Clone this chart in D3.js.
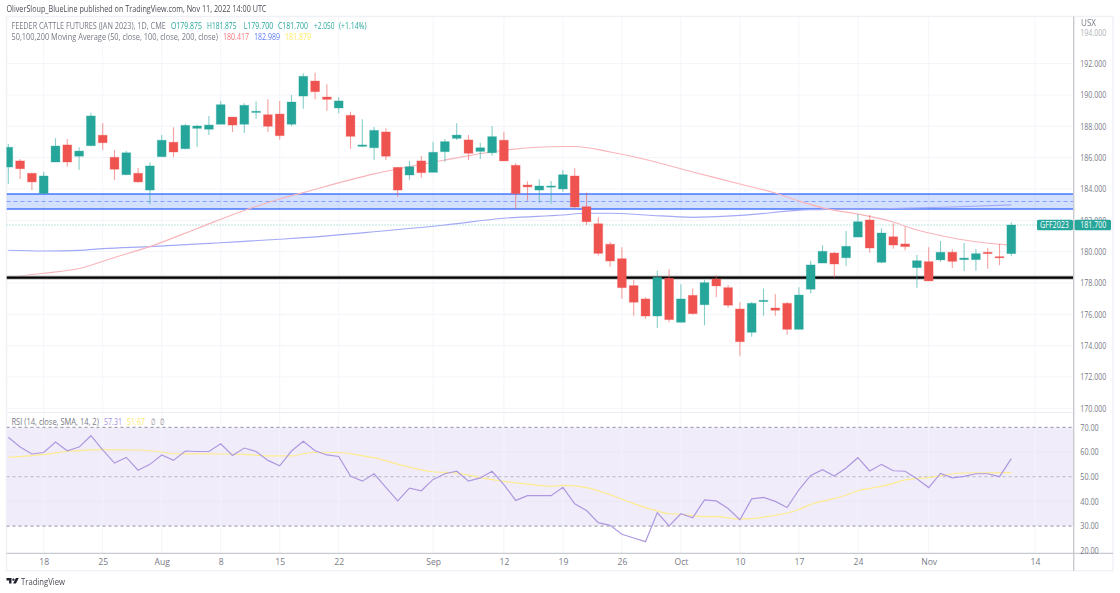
<!DOCTYPE html>
<html><head><meta charset="utf-8">
<script src="https://cdn.jsdelivr.net/npm/d3@7"></script>
<style>
html,body{margin:0;padding:0;background:#fff;overflow:hidden}
svg{display:block;filter:blur(0.3px)}
text{font-family:"Open Sans",sans-serif}
</style></head><body>
<svg id="c" width="1120" height="593"></svg>
<script>
const opens=[185.40,185.79,185.00,183.72,185.72,186.81,186.09,186.76,187.43,186.02,184.91,185.00,183.93,186.06,186.98,186.57,187.87,187.81,188.13,188.59,188.13,188.91,188.74,188.78,188.13,189.93,190.89,189.87,189.17,188.70,186.72,186.63,187.64,185.38,184.89,185.79,185.06,186.38,187.23,187.13,186.40,186.31,187.11,185.51,184.25,183.93,184.14,184.00,184.83,182.87,181.78,180.47,179.55,177.83,176.98,175.89,178.30,175.49,177.21,176.61,178.25,177.70,176.34,174.85,176.81,176.40,176.70,175.04,177.60,179.27,179.91,179.61,180.93,182.02,179.32,180.95,180.49,178.98,179.36,179.47,179.96,179.49,179.49,179.96,179.68,179.875];
const highs=[186.87,185.89,185.04,185.10,187.23,187.19,186.66,188.87,188.19,186.49,186.42,185.34,185.70,187.44,187.94,188.15,188.08,188.66,189.61,188.59,189.47,189.59,189.72,189.61,190.00,191.38,191.42,190.68,189.85,188.93,188.45,187.95,187.87,185.38,185.79,186.10,187.02,187.19,188.19,187.44,186.95,188.02,187.65,185.64,184.49,184.62,184.51,185.21,185.32,183.76,182.19,180.63,180.28,178.19,177.09,178.78,178.87,177.92,177.64,178.19,178.49,177.87,176.77,176.79,177.64,177.30,176.79,177.72,179.40,180.40,179.98,181.32,182.40,182.34,181.49,181.81,181.59,179.79,180.28,180.68,180.15,180.55,180.17,180.23,180.49,181.875];
const lows=[184.32,184.64,183.93,183.68,185.72,185.42,185.21,186.74,186.49,184.57,184.89,184.40,183.02,186.06,186.04,186.53,186.70,187.44,188.13,187.64,187.57,188.48,187.64,187.14,188.00,189.12,189.72,189.00,188.83,186.57,186.66,185.85,185.85,183.51,184.59,184.72,185.06,185.74,187.13,185.85,185.91,186.12,185.79,182.70,183.25,183.12,183.06,183.83,182.74,181.70,179.74,179.04,177.00,175.91,175.72,175.13,175.49,175.49,175.98,175.30,177.09,176.42,173.36,174.57,175.91,175.91,174.70,175.04,177.32,179.27,178.34,179.10,180.93,179.93,179.28,180.19,180.09,177.70,178.13,179.36,178.96,178.77,178.78,178.91,179.13,179.70];
const closes=[186.66,185.29,184.45,184.83,186.74,185.72,186.42,188.66,186.95,185.26,186.31,184.45,185.47,187.11,186.36,188.06,188.02,188.08,189.38,188.08,189.34,188.96,188.00,187.40,189.55,191.19,190.21,189.72,189.62,187.36,186.81,187.74,186.09,183.93,185.42,185.04,186.34,187.02,187.44,186.28,186.63,187.34,185.79,183.70,184.13,184.19,184.19,184.91,182.85,181.91,179.89,179.40,177.70,176.77,175.89,178.36,175.66,176.98,176.04,178.02,177.81,176.58,174.25,176.70,176.89,176.26,175.04,177.23,179.15,180.02,179.21,180.34,181.91,180.23,181.19,180.42,180.32,179.42,178.13,179.96,179.38,179.59,179.87,179.87,179.61,181.70];

const ma50Bars=[0,3,6,9,12,16,20,23,25,31,37,42,47,48,51,54,58,62,65,67,69,72,75,77,79,82,85];
const ma50Values=[178.36,178.62,178.92,179.63,180.32,181.48,182.63,183.36,183.77,184.96,185.85,186.47,186.71,186.71,186.36,185.88,185.08,184.32,183.74,183.23,182.79,182.40,181.89,181.38,181.03,180.63,180.417];
const ma100Bars=[0,3,6,8,12,18,23,25,31,37,42,47,49,51,54,58,62,68,74,80,85];
const ma100Values=[180.09,180.04,180.08,180.19,180.32,180.57,180.79,180.89,181.27,181.70,182.13,182.34,182.45,182.45,182.34,182.19,182.31,182.68,182.74,182.85,182.989];

const rsiValues=[66,62,59.2,59.8,64,60.5,62,66.6,60.9,55.5,57.8,52.6,55,58.8,56.6,60.4,60.2,60.2,63.3,58.6,61.6,60.2,56.6,54.4,60.4,64.3,60.5,58.8,58.2,50.3,48.2,51.2,45.7,40.2,45.4,44.3,48.9,51.2,52.2,48.2,49.5,52.2,46.8,40.4,42.3,42.3,42.3,45.7,39,36.3,31.4,30.3,26.7,25.2,23.7,35.5,30.1,35,33.4,40.6,40.2,37.1,32.6,41,41.6,40,37.5,44.7,50.5,52.8,50.3,53.5,57.7,52.3,55,52.4,52.2,49.2,45.6,51.3,49.5,50.1,51.2,51.2,50,57.31];
const rsiSmaBars=[0,3,5,7,8,11,13,14,18,20,22,24,25,26,28,30,31,33,36,38,40,42,44,46,47,49,51,53,55,56,57,59,60,62,63,65,66,67,68,70,71,72,74,75,76,77,78,79,80,81,85];
const rsiSmaValues=[57.8,59,60.2,60.9,61,60.8,60,59.3,59.2,59,58.4,58.4,59.3,59.8,59.8,58.5,57.7,55.1,52,51.5,49.6,48.1,47,46.1,46.5,45.6,42.7,39.1,36.1,35,34.8,33.8,33.8,32.8,33,34.4,35.3,36.7,38.8,41.2,42.6,44.3,46.1,47.3,48.7,49.3,49.6,50.3,51.2,51.5,51.67];

const bandTop=183.68, bandMid=183.20, bandBottom=182.72, supportLevel=178.34, lastPrice=181.70;
const priceTicks=[170,172,174,176,178,180,182,184,186,188,190,192,194];
const rsiTicks=[20,30,40,50,60,70];
const rsiGuides=[70,50,30];
const dateBars=[3,8,13,18,23,28,36,42,47,52,57,62,67,72,78,87];
const dateLabels=["18","25","Aug","8","15","22","Sep","12","19","26","Oct","10","17","24","Nov","14"];

const L=6.5,R=1073.7,AR=1113,T=16.5,SEP=412.5,AX=553.3,B=570.7;
const x=d3.scaleLinear().domain([0,87]).range([8.3,1034.9]);
const y=d3.scaleLinear().domain([170,194]).range([408.3,32.3]);
const ry=d3.scaleLinear().domain([20,70]).range([550.8,427.3]);

const FONT='"Open Sans",sans-serif';
const GREEN="#26a69a",RED="#ef5350",GREY="#787b86",GRID="#f3f4fa";
const svg=d3.select("#c");
const defs=svg.append("defs");
defs.append("clipPath").attr("id","main").append("rect").attr("x",L).attr("y",T).attr("width",R-L).attr("height",SEP-T);
defs.append("clipPath").attr("id","rsi").append("rect").attr("x",L).attr("y",SEP).attr("width",R-L).attr("height",AX-SEP);

svg.append("rect").attr("x",L).attr("y",T).attr("width",AR-L).attr("height",B-T).attr("fill","#fff").attr("stroke","#f0f1f6").attr("stroke-width",1.4);

const grid=svg.append("g");
grid.append("rect").attr("x",L).attr("width",R-L).attr("y",ry(70)).attr("height",ry(30)-ry(70)).attr("fill","#f0ecf9");
grid.selectAll(".h").data(priceTicks.slice(0,-1)).join("line").attr("x1",L).attr("x2",R).attr("y1",d=>y(d)).attr("y2",d=>y(d)).attr("stroke",GRID);
grid.selectAll(".r").data(rsiTicks.filter(d=>d==60||d==40)).join("line").attr("x1",L).attr("x2",R).attr("y1",d=>ry(d)).attr("y2",d=>ry(d)).attr("stroke","#ebe7f6");
grid.selectAll(".v").data(dateBars).join("line").attr("x1",d=>x(d)).attr("x2",d=>x(d)).attr("y1",T).attr("y2",AX).attr("stroke",GRID).attr("stroke-opacity",.9);

const main=svg.append("g").attr("clip-path","url(#main)");
main.append("rect").attr("x",L).attr("width",R-L).attr("y",y(bandTop)).attr("height",y(bandBottom)-y(bandTop)).attr("fill","#2962ff").attr("fill-opacity",.2);
[bandTop,bandBottom].forEach(v=>main.append("line").attr("x1",L).attr("x2",R).attr("y1",y(v)).attr("y2",y(v)).attr("stroke","#2962ff").attr("stroke-width",1.5).attr("stroke-opacity",.85));
main.append("line").attr("x1",L).attr("x2",R).attr("y1",y(bandMid)).attr("y2",y(bandMid)).attr("stroke","#2962ff").attr("stroke-opacity",.5).attr("stroke-dasharray","4 3");
main.append("line").attr("x1",L).attr("x2",R).attr("y1",y(lastPrice)).attr("y2",y(lastPrice)).attr("stroke",GREEN).attr("stroke-opacity",.6).attr("stroke-dasharray","1 2");

const lineP=d3.line().curve(d3.curveMonotoneX).x(d=>x(d[0])).y(d=>y(d[1]));
main.append("path").attr("d",lineP(d3.zip(ma100Bars,ma100Values))).attr("fill","none").attr("stroke","#a3a9f6").attr("stroke-width",1.15);
main.append("path").attr("d",lineP(d3.zip(ma50Bars,ma50Values))).attr("fill","none").attr("stroke","#f9b4b9").attr("stroke-width",1.15);

main.append("line").attr("x1",L).attr("x2",R).attr("y1",y(supportLevel)).attr("y2",y(supportLevel)).attr("stroke","#c4c4c6").attr("stroke-width",4.4);
main.append("line").attr("x1",L).attr("x2",R).attr("y1",y(supportLevel)).attr("y2",y(supportLevel)).attr("stroke","#000").attr("stroke-width",2.4);

const bars=d3.range(opens.length).map(i=>({i,o:opens[i],h:highs[i],l:lows[i],c:closes[i]}));
const col=d=>d.c>=d.o?GREEN:RED;
main.selectAll(".w").data(bars).join("line").attr("x1",d=>x(d.i)).attr("x2",d=>x(d.i)).attr("y1",d=>y(d.h)).attr("y2",d=>y(d.l)).attr("stroke",col).attr("stroke-width",1.1).attr("stroke-opacity",.55);
main.selectAll(".b").data(bars).join("rect")
 .attr("x",d=>x(d.i)-4.4).attr("width",8.8)
 .attr("y",d=>y(Math.max(d.o,d.c)))
 .attr("height",d=>Math.max(1.2,Math.abs(y(d.o)-y(d.c))))
 .attr("fill",col).attr("stroke",col).attr("stroke-opacity",.3).attr("stroke-width",1);

const rsi=svg.append("g").attr("clip-path","url(#rsi)");
rsiGuides.forEach(v=>rsi.append("line").attr("x1",L).attr("x2",R).attr("y1",ry(v)).attr("y2",ry(v)).attr("stroke",GREY).attr("stroke-opacity",v==50?.45:.8).attr("stroke-dasharray","3 3"));
const lineR=d3.line().x(d=>x(d[0])).y(d=>ry(d[1]));
rsi.append("path").attr("d",lineR.curve(d3.curveMonotoneX)(d3.zip(rsiSmaBars,rsiSmaValues))).attr("fill","none").attr("stroke","#fdeb8f").attr("stroke-width",1.2);
rsi.append("path").attr("d",lineR.curve(d3.curveLinear)(rsiValues.map((v,i)=>[i,v]))).attr("fill","none").attr("stroke","#ae98e0").attr("stroke-width",1.2);

svg.append("line").attr("x1",L).attr("x2",R).attr("y1",SEP).attr("y2",SEP).attr("stroke","#ebecf1").attr("stroke-width",1.2);
svg.append("line").attr("x1",L).attr("x2",AR).attr("y1",AX).attr("y2",AX).attr("stroke","#c8cad0").attr("stroke-width",1.2);
svg.append("line").attr("x1",R).attr("x2",R).attr("y1",T).attr("y2",B).attr("stroke","#c8cad0").attr("stroke-width",1.4);

const fs=8.8;
function narrow(sel,w){sel.each(function(){const k=w/this.getComputedTextLength();d3.select(this).attr("transform",`scale(${k},1)`);});}
const pa=svg.append("g").attr("transform",`translate(${R+6.6},0)`).call(d3.axisRight(y).tickValues(priceTicks).tickFormat(d3.format(".3f")).tickSize(0).tickPadding(0));
pa.select(".domain").remove();
pa.selectAll("text").attr("fill",GREY).attr("font-size",fs).attr("font-family",FONT).attr("opacity",d=>d==194?.6:1).call(narrow,26);
const ra=svg.append("g").attr("transform",`translate(${R+6.6},0)`).call(d3.axisRight(ry).tickValues(rsiTicks).tickFormat(d3.format(".2f")).tickSize(0).tickPadding(0));
ra.select(".domain").remove();
ra.selectAll("text").attr("fill",GREY).attr("font-size",fs).attr("font-family",FONT).call(narrow,18.5);
const da=svg.append("g").attr("transform",`translate(0,${AX+5.5})`).call(d3.axisBottom(x).tickValues(dateBars).tickFormat((d,i)=>dateLabels[i]).tickSize(0).tickPadding(0));
da.select(".domain").remove();
da.selectAll("text").attr("fill",GREY).attr("font-size",8.6).attr("font-family",FONT);

const tagY=y(lastPrice);
svg.append("rect").attr("x",1037).attr("y",tagY-5.2).attr("width",36).attr("height",10.4).attr("rx",1.5).attr("fill",GREEN);
svg.append("rect").attr("x",1074.5).attr("y",tagY-5.2).attr("width",36.5).attr("height",10.4).attr("rx",1.5).attr("fill",GREEN);
function label(xp,yp,t,fill,w,size){
  const s=svg.append("text").attr("dy","0.35em").attr("fill",fill).attr("font-size",size||8.8).text(t);
  const k=w?w/s.node().getComputedTextLength():1;
  return s.attr("transform",`translate(${xp},${yp}) scale(${k},1)`);
}
label(1040,tagY,"GFF2023","#fff",29);
label(R+6.6,tagY,"181.700","#fff",26);
label(1081,23.5,"USX",GREY,15,8.4);

label(6.5,9.2,"OliverSloup_BlueLine published on TradingView.com, Nov 11, 2022 14:00 UTC","#4a4c54",260);
label(11.5,26,"FEEDER CATTLE FUTURES (JAN 2023), 1D, CME",GREY,154.5);
[[171,"O179.875",31],[207,"H181.875",29.5],[243.7,"L179.700",29.5],[278,"C181.700",30],[314,"+2.050",20.5],[339,"(+1.14%)",27.5]].forEach(d=>label(d[0],26,d[1],GREEN,d[2]));
label(11.5,37,"50,100,200 Moving Average (50, close, 100, close, 200, close)",GREY,206.5);
label(223,37,"180.417","#f7767c",26);
label(254,37,"182.989","#5b7cf5",26);
label(285,37,"181.879","#fde965",26);
label(11.5,421.7,"RSI (14, close, SMA, 14, 2)",GREY,87.5);
label(104,421.7,"57.31","#a88ddc",18);
label(127,421.7,"51.67","#fde965",18);
label(151,421.7,"∅",GREY,4.5);
label(160,421.7,"∅",GREY,4.5);

svg.append("path").attr("transform","translate(6.5,578)").attr("fill","#1e222d")
 .attr("d","M0 0h5v5.6h-2.4v-3.2H0zM9.4 0h2.9l-2.9 5.6H6.6zM5.7 1.6a1.2 1.2 0 1 0 2.4 0a1.2 1.2 0 1 0-2.4 0z");
label(21,582.2,"TradingView","#4a4c54",44,9.4);
</script>
</body></html>
